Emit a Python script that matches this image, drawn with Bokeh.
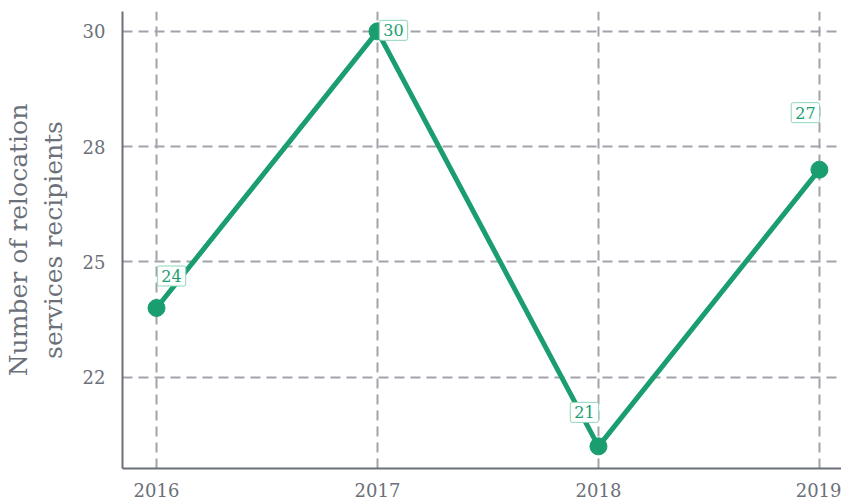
from bokeh.plotting import figure
from bokeh.models import ColumnDataSource, Range1d, FixedTicker
from bokeh.core.properties import value
from bokeh.embed import file_html
from bokeh.resources import INLINE

years = [2016, 2017, 2018, 2019]
recipients = [24, 30, 21, 27]
y_ticks = [22.5, 25, 27.5, 30]
y_tick_labels = ["22", "25", "28", "30"]

# label offsets in screen px (styling); negative = up
label_dx = [15, 16, -14, -14]
label_dy = [-32, -1, -34, -57]

GREEN = "#1a9e6f"
GREY = "#6b7079"
FONT = "DejaVu Serif"

p = figure(width=841, height=499, output_backend="svg", toolbar_location=None,
           x_range=Range1d(2015.846, 2019.1), y_range=Range1d(20.52, 30.43),
           min_border_left=121, min_border_right=0, min_border_top=11, min_border_bottom=0)
p.outline_line_color = None

src = ColumnDataSource(dict(x=years, y=recipients,
                            lbl=[str(v) for v in recipients],
                            dx=label_dx, dy=label_dy))

p.line("x", "y", source=src, line_color=GREEN, line_width=5)
p.scatter("x", "y", source=src, size=17, fill_color=GREEN, line_color=GREEN)
p.text("x", "y", text="lbl", source=src, x_offset="dx", y_offset="dy",
       text_align="center", text_baseline="middle", text_color=GREEN,
       text_font=value(FONT), text_font_size="16px",
       background_fill_color="white", border_line_color="#8fd4b8", border_line_width=1,
       padding=4, border_radius=2)

p.xaxis.ticker = FixedTicker(ticks=years)
p.yaxis.ticker = FixedTicker(ticks=y_ticks)
p.yaxis.major_label_overrides = {t: l for t, l in zip(y_ticks, y_tick_labels)}

for ax in (p.xaxis, p.yaxis):
    ax.axis_line_color = GREY
    ax.axis_line_width = 2
    ax.major_tick_line_color = None
    ax.minor_tick_line_color = None
    ax.major_label_text_font = FONT
    ax.major_label_text_font_size = "18px"
    ax.major_label_text_color = GREY

p.xaxis.major_label_standoff = 8
p.yaxis.major_label_standoff = 11
p.yaxis.axis_label = "Number of relocation\nservices recipients"
p.yaxis.axis_label_text_font = FONT
p.yaxis.axis_label_text_font_size = "25px"
p.yaxis.axis_label_text_font_style = "normal"
p.yaxis.axis_label_text_color = GREY
p.yaxis.axis_label_standoff = 12

for g in (p.xgrid, p.ygrid):
    g.grid_line_color = "#a3a3ab"
    g.grid_line_width = 2
    g.grid_line_dash = "10 6"

open("out.html", "w").write(file_html(p, INLINE))
